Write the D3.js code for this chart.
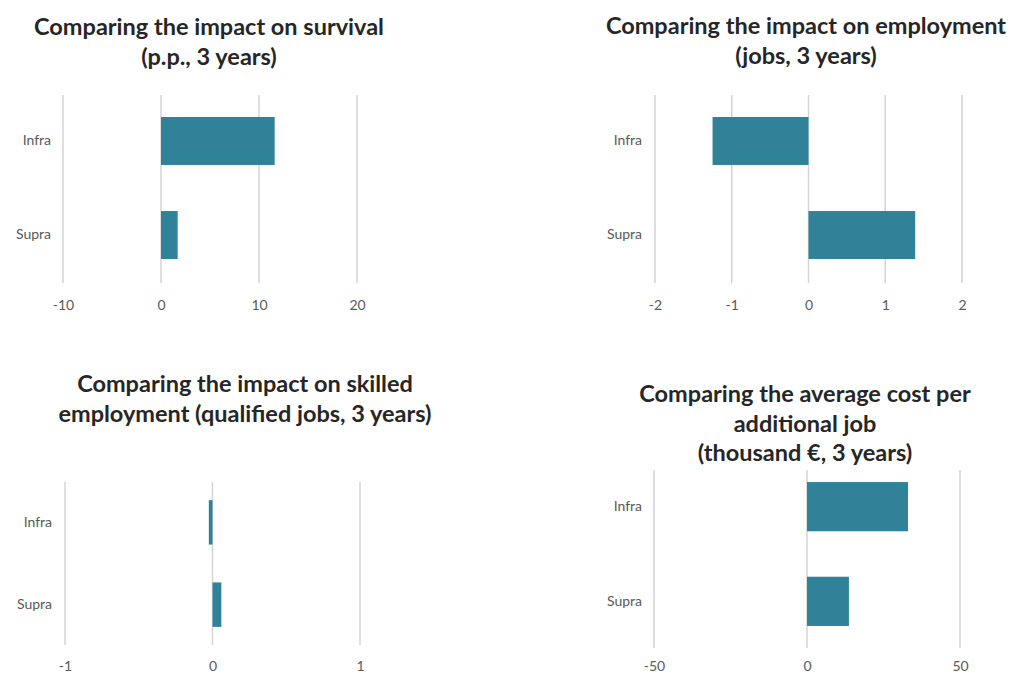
<!DOCTYPE html>
<html>
<head>
<meta charset="utf-8">
<script src="https://cdn.jsdelivr.net/npm/d3@7"></script>
<style>
  html, body { margin: 0; padding: 0; background: #ffffff; }
  svg { display: block; }
</style>
</head>
<body>
<svg id="chart" width="1011" height="675"></svg>
<script>
// ---- data ----
const categories = ["Infra", "Supra"];

const survivalValues   = [11.6, 1.7];
const survivalTicks    = [-10, 0, 10, 20];
const survivalTitle    = ["Comparing the impact on survival", "(p.p., 3 years)"];

const employmentValues = [-1.25, 1.39];
const employmentTicks  = [-2, -1, 0, 1, 2];
const employmentTitle  = ["Comparing the impact on employment", "(jobs, 3 years)"];

const skilledValues    = [-0.025, 0.06];
const skilledTicks     = [-1, 0, 1];
const skilledTitle     = ["Comparing the impact on skilled", "employment (qualified jobs, 3 years)"];

const costValues       = [33, 13.7];
const costTicks        = [-50, 0, 50];
const costTitle        = ["Comparing the average cost per", "additional job", "(thousand €, 3 years)"];

// ---- styling ----
const BAR = "#2f8297";
const GRID = "#d4d4d4";
const LABEL = "#595959";
const TITLE = "#262626";
const FONT = "Lato, 'Open Sans', sans-serif";

const svg = d3.select("#chart");

function panel(opt) {
  const g = svg.append("g");
  const x = d3.scaleLinear().domain(opt.domain).range(opt.xRange);
  const y = d3.scaleBand().domain(categories).range(opt.yRange).paddingInner(opt.padIn).paddingOuter(opt.padOut);

  // gridlines
  g.selectAll("line.grid").data(opt.ticks).join("line")
    .attr("class", "grid")
    .attr("x1", d => x(d)).attr("x2", d => x(d))
    .attr("y1", opt.gridTop).attr("y2", opt.gridBottom)
    .attr("stroke", GRID).attr("stroke-width", 1.5);

  // bars
  g.selectAll("rect.bar").data(opt.values).join("rect")
    .attr("class", "bar")
    .attr("x", d => Math.min(x(0), x(d)))
    .attr("width", d => Math.abs(x(d) - x(0)))
    .attr("y", (d, i) => y(categories[i]))
    .attr("height", y.bandwidth())
    .attr("fill", BAR);

  // x axis tick labels
  const xAxis = d3.axisBottom(x).tickValues(opt.ticks).tickSize(0).tickPadding(0).tickFormat(d => String(d));
  const ax = g.append("g").attr("transform", `translate(0,${opt.tickY})`).call(xAxis);
  ax.select(".domain").remove();
  ax.selectAll("text").attr("fill", LABEL).attr("font-size", 14).attr("font-family", FONT).attr("dy", "0").attr("y", 0);

  // y axis category labels
  const yAxis = d3.axisLeft(y).tickSize(0).tickPadding(0);
  const ay = g.append("g").attr("transform", `translate(${opt.labelX},0)`).call(yAxis);
  ay.select(".domain").remove();
  ay.selectAll("text").attr("fill", LABEL).attr("font-size", 14).attr("font-family", FONT);

  // title
  g.append("text")
    .attr("x", opt.titleX).attr("y", opt.titleY)
    .attr("text-anchor", "middle")
    .attr("font-family", FONT).attr("font-weight", "bold").attr("font-size", 23.5)
    .attr("fill", TITLE)
    .selectAll("tspan").data(opt.title).join("tspan")
    .attr("x", opt.titleX)
    .attr("dy", (d, i) => i === 0 ? 0 : 29.5)
    .text(d => d);
}

panel({
  domain: [-10, 20], xRange: [63, 357], ticks: survivalTicks, values: survivalValues,
  yRange: [93.5, 282.5], padIn: 0.49, padOut: 0.25,
  gridTop: 95, gridBottom: 283, tickY: 310, labelX: 51,
  title: survivalTitle, titleX: 209, titleY: 35
});

panel({
  domain: [-2, 2], xRange: [655, 962], ticks: employmentTicks, values: employmentValues,
  yRange: [93.5, 282.5], padIn: 0.49, padOut: 0.25,
  gridTop: 95, gridBottom: 283, tickY: 310, labelX: 642,
  title: employmentTitle, titleX: 806, titleY: 34
});

panel({
  domain: [-1, 1], xRange: [65, 360], ticks: skilledTicks, values: skilledValues,
  yRange: [459, 668], padIn: 0.46, padOut: 0.5,
  gridTop: 482, gridBottom: 645, tickY: 671, labelX: 52,
  title: skilledTitle, titleX: 245, titleY: 392
});

panel({
  domain: [-50, 50], xRange: [654, 960], ticks: costTicks, values: costValues,
  yRange: [458.4, 649.6], padIn: 0.48, padOut: 0.25,
  gridTop: 470, gridBottom: 648, tickY: 671, labelX: 642,
  title: costTitle, titleX: 805, titleY: 402
});
</script>
</body>
</html>
